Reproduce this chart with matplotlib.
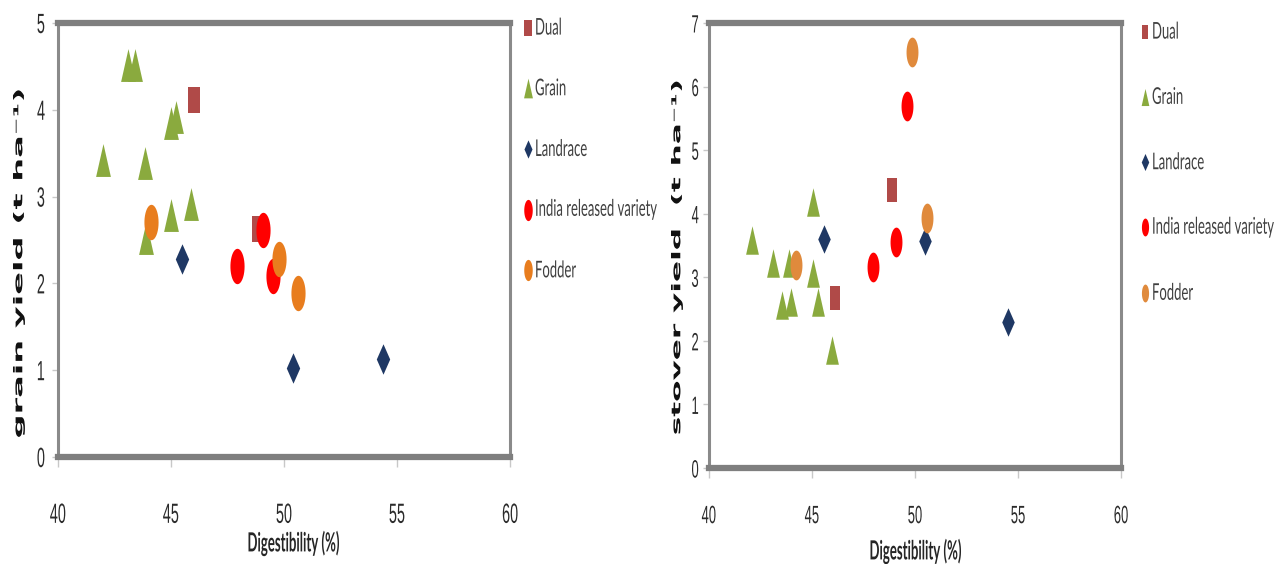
import numpy as np
import matplotlib
matplotlib.use('Agg')
import matplotlib.pyplot as plt
from matplotlib.path import Path
from matplotlib.transforms import Affine2D
from matplotlib.patheffects import AbstractPathEffect

# grain yield panel
g_dual_x = [46.0, 48.85]
g_dual_y = [4.11, 2.63]
g_grain_x = [42.0, 43.1, 43.4, 43.85, 45.0, 45.2, 45.0, 45.9, 43.9]
g_grain_y = [3.42, 4.52, 4.52, 3.39, 3.85, 3.92, 2.79, 2.92, 2.52]
g_land_x = [45.5, 50.4, 54.4]
g_land_y = [2.28, 1.03, 1.13]
g_india_x = [47.9, 49.07, 49.5]
g_india_y = [2.20, 2.62, 2.08]
g_fod_x = [44.1, 49.8, 50.6]
g_fod_y = [2.71, 2.28, 1.89]

# stover yield panel
s_dual_x = [48.9, 46.1]
s_dual_y = [4.37, 2.67]
s_grain_x = [42.1, 43.1, 43.9, 45.05, 45.05, 43.55, 44.0, 45.3, 45.97]
s_grain_y = [3.58, 3.22, 3.22, 4.18, 3.07, 2.56, 2.61, 2.61, 1.86]
s_land_x = [45.6, 50.5, 54.5]
s_land_y = [3.60, 3.57, 2.30]
s_india_x = [49.6, 49.1, 47.96]
s_india_y = [5.69, 3.55, 3.16]
s_fod_x = [49.85, 50.6, 44.2]
s_fod_y = [6.54, 3.93, 3.19]

names = ['Dual', 'Grain', 'Landrace', 'India released variety', 'Fodder']


class Squeeze(AbstractPathEffect):
    # the original picture was squashed sideways, so squash the text the same way
    def __init__(self, fx=0.55, fy=1.0, anchor='center'):
        super().__init__()
        self.fx, self.fy, self.anchor = fx, fy, anchor

    def draw_path(self, renderer, gc, tpath, affine, rgbFace=None):
        pts = affine.transform(tpath.vertices)
        if tpath.codes is not None:
            keep = (tpath.codes != Path.CLOSEPOLY) & (tpath.codes != Path.STOP)
            pts = pts[keep]
        if self.anchor == 'left':
            x0 = pts[:, 0].min()
        elif self.anchor == 'right':
            x0 = pts[:, 0].max()
        else:
            x0 = (pts[:, 0].min() + pts[:, 0].max()) / 2
        y0 = (pts[:, 1].min() + pts[:, 1].max()) / 2
        tr = affine + Affine2D().translate(-x0, -y0).scale(self.fx, self.fy).translate(x0, y0)
        renderer.draw_path(gc, tpath, tr, rgbFace)


# tall (squashed) marker shapes
t = np.linspace(0, 2 * np.pi, 40)
ellipse = Path(np.column_stack([0.4 * np.cos(t), np.sin(t)]), closed=True)
tri = Path([(-0.45, -1), (0.45, -1), (0, 1), (-0.45, -1)], closed=True)
diamond = Path([(0, -1), (0.44, 0), (0, 1), (-0.44, 0), (0, -1)], closed=True)
square = Path([(-0.46, -1), (0.46, -1), (0.46, 1), (-0.46, 1), (-0.46, -1)], closed=True)

W, H = 1282, 564


def panel(ax, data, colors, sizes, ymax, tick_fs, xpad, ypad):
    shapes = [square, tri, diamond, ellipse, ellipse]
    for (x, y), c, m, s, n in zip(data, colors, shapes, sizes, names):
        ax.scatter(x, y, marker=m, s=s, color=c, linewidths=0, label=n, zorder=3)
    ax.set_xlim(40, 60)
    ax.set_ylim(0, ymax)
    ax.set_xticks(range(40, 61, 5))
    ax.set_yticks(range(0, ymax + 1))
    for side in ['top', 'bottom']:
        ax.spines[side].set_linewidth(4.5)
        ax.spines[side].set_color('#7f7f7f')
    for side in ['left', 'right']:
        ax.spines[side].set_linewidth(2.2)
        ax.spines[side].set_color('#8a8a8a')
    ax.tick_params(axis='x', length=7, width=1, color='#c8c8c8', pad=xpad)
    ax.tick_params(axis='y', length=4, width=1, color='#c8c8c8', pad=ypad)
    for lab in ax.get_xticklabels():
        lab.set_fontfamily('Liberation Sans')
        lab.set_fontsize(tick_fs)
        lab.set_color('#2b2b2b')
        lab.set_path_effects([Squeeze(0.52)])
    for lab in ax.get_yticklabels():
        lab.set_fontfamily('Liberation Sans')
        lab.set_fontsize(tick_fs)
        lab.set_color('#2b2b2b')
        lab.set_path_effects([Squeeze(0.52, anchor='right')])


fig = plt.figure(figsize=(W / 100, H / 100), dpi=100)
ax1 = fig.add_axes([58 / W, 1 - 457 / H, 452 / W, 434 / H])
ax2 = fig.add_axes([709 / W, 1 - 468 / H, 412 / W, 445 / H])

cols1 = ['#B04A48', '#8AAA3E', '#1F3864', '#FF0000', '#E87D1E']
cols2 = ['#B04A48', '#8AAA3E', '#1F3864', '#FF0000', '#E08A3C']

panel(ax1, [(g_dual_x, g_dual_y), (g_grain_x, g_grain_y), (g_land_x, g_land_y),
            (g_india_x, g_india_y), (g_fod_x, g_fod_y)], cols1,
      [340, 560, 480, 650, 650], 5, 20, 26, 5)
panel(ax2, [(s_dual_x, s_dual_y), (s_grain_x, s_grain_y), (s_land_x, s_land_y),
            (s_india_x, s_india_y), (s_fod_x, s_fod_y)], cols2,
      [285, 420, 420, 460, 460], 7, 18, 19, 3)

# axis titles
for ax, txt, ly, fy, xl in [(ax1, 'grain yield (t ha⁻¹)', (19, 263), 1.51, (293, 543)),
                            (ax2, 'stover yield  (t ha⁻¹)', (677, 257), 1.40, (915, 551))]:
    ax.set_ylabel(txt, fontfamily='DejaVu Sans', fontsize=16, fontweight='bold',
                  color='#111111', va='center', ha='center')
    ax.yaxis.set_label_coords(ly[0] / W, 1 - ly[1] / H, transform=fig.transFigure)
    ax.yaxis.label.set_path_effects([Squeeze(0.55, fy)])
    ax.set_xlabel('Digestibility (%)', fontfamily='Lato', fontsize=19, fontweight='bold',
                  color='#262626', va='center', ha='center')
    ax.xaxis.set_label_coords(xl[0] / W, 1 - xl[1] / H, transform=fig.transFigure)
    ax.xaxis.label.set_path_effects([Squeeze(0.5)])

# legends right of each panel (small font stretched upward, same look, tighter box)
for ax, x0, top, sp in [(ax1, 524.7, 21, 3.69), (ax2, 1141.7, 25, 4.04)]:
    leg = ax.legend(loc='upper left', bbox_to_anchor=(x0 / W, 1 - top / H),
                    bbox_transform=fig.transFigure, frameon=False,
                    prop={'family': 'Lato', 'size': 9.5}, labelspacing=sp,
                    handlelength=0.5, handletextpad=0.28, markerscale=0.6,
                    borderaxespad=0, borderpad=0)
    for txt in leg.get_texts():
        txt.set_color('#404040')
        txt.set_path_effects([Squeeze(0.99, 1.75, anchor='left')])

fig.savefig('out.png', dpi=100)
